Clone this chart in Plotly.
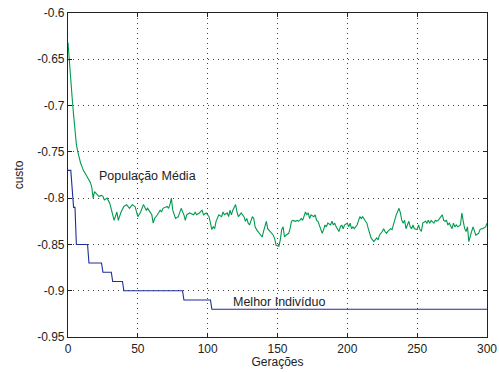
import plotly.graph_objects as go

# Green series: população média (generation, custo)
media_gens = [0, 1, 2, 3, 4, 5, 6, 7, 8, 9, 10, 11, 13, 15, 16, 17, 18, 19, 20, 21, 22, 24, 25, 26, 28, 30,
              31, 33, 35, 36, 38, 40, 42, 44, 46, 48, 50, 52, 54, 56, 57, 59, 60, 61, 62, 64, 66, 67, 68, 71,
              72, 73, 74, 75, 77, 79, 80, 81, 83, 84, 85, 87, 90, 91, 92, 94, 96, 97, 99, 101, 103, 104, 105,
              106, 108, 110, 111, 112, 114, 115, 116, 117, 118, 120, 121, 122, 123, 124, 126, 127, 128, 129,
              130, 132, 133, 134, 135, 136, 137, 139, 140, 141, 142, 143, 145, 147, 148, 149, 151, 152, 153,
              154, 155, 156, 158, 159, 160, 161, 163, 164, 165, 166, 167, 168, 170, 171, 172, 173, 174, 176,
              177, 178, 179, 180, 182, 183, 184, 185, 186, 188, 189, 190, 191, 192, 194, 195, 196, 197, 198,
              200, 201, 202, 203, 204, 205, 207, 208, 209, 210, 211, 213, 214, 215, 216, 217, 219, 220, 221,
              222, 223, 225, 226, 227, 228, 229, 231, 232, 233, 234, 235, 237, 238, 239, 240, 241, 242, 244,
              245, 246, 247, 248, 250, 251, 252, 253, 254, 256, 257, 258, 259, 260, 262, 263, 264, 265, 266,
              268, 269, 270, 271, 272, 273, 275, 276, 277, 278, 279, 281, 282, 283, 284, 285, 286, 287, 288,
              289, 290, 291, 292, 294, 295, 296, 297, 299, 300]
media_vals = [-0.632, -0.655, -0.672, -0.692, -0.710, -0.728, -0.742, -0.750, -0.757, -0.762, -0.766, -0.770,
              -0.775, -0.780, -0.783, -0.788, -0.800, -0.793, -0.795, -0.797, -0.798, -0.797, -0.798, -0.802,
              -0.800, -0.806, -0.813, -0.824, -0.815, -0.824, -0.815, -0.809, -0.807, -0.811, -0.807, -0.809,
              -0.820, -0.815, -0.807, -0.813, -0.811, -0.816, -0.818, -0.827, -0.822, -0.818, -0.813, -0.815,
              -0.811, -0.809, -0.811, -0.807, -0.800, -0.813, -0.822, -0.820, -0.816, -0.811, -0.818, -0.824,
              -0.818, -0.816, -0.818, -0.815, -0.818, -0.816, -0.813, -0.818, -0.816, -0.820, -0.834, -0.831,
              -0.833, -0.825, -0.818, -0.820, -0.815, -0.818, -0.816, -0.820, -0.813, -0.818, -0.813, -0.807,
              -0.815, -0.820, -0.818, -0.816, -0.820, -0.825, -0.822, -0.827, -0.829, -0.820, -0.822, -0.831,
              -0.834, -0.836, -0.838, -0.842, -0.836, -0.829, -0.825, -0.833, -0.836, -0.840, -0.844, -0.851,
              -0.852, -0.845, -0.834, -0.831, -0.842, -0.840, -0.838, -0.833, -0.825, -0.824, -0.825, -0.824,
              -0.825, -0.824, -0.822, -0.824, -0.815, -0.818, -0.816, -0.822, -0.818, -0.820, -0.818, -0.824,
              -0.825, -0.829, -0.838, -0.834, -0.829, -0.831, -0.827, -0.829, -0.825, -0.829, -0.827, -0.831,
              -0.836, -0.831, -0.829, -0.833, -0.829, -0.827, -0.831, -0.827, -0.833, -0.831, -0.833, -0.829,
              -0.825, -0.820, -0.822, -0.820, -0.825, -0.827, -0.833, -0.838, -0.843, -0.847, -0.845, -0.843,
              -0.845, -0.840, -0.836, -0.833, -0.836, -0.838, -0.836, -0.833, -0.834, -0.829, -0.825, -0.818,
              -0.811, -0.816, -0.824, -0.827, -0.824, -0.833, -0.825, -0.831, -0.833, -0.829, -0.833, -0.834,
              -0.829, -0.834, -0.836, -0.827, -0.825, -0.827, -0.824, -0.827, -0.824, -0.827, -0.824, -0.825,
              -0.824, -0.822, -0.818, -0.824, -0.825, -0.824, -0.829, -0.827, -0.833, -0.827, -0.831, -0.829,
              -0.831, -0.829, -0.816, -0.825, -0.833, -0.836, -0.831, -0.847, -0.840, -0.836, -0.831, -0.836,
              -0.840, -0.838, -0.834, -0.833, -0.833, -0.831, -0.827]

# Blue series: melhor indivíduo (step knots)
melhor_gens = [0, 2, 4, 5, 6, 14, 15, 24, 25, 31, 32, 39, 40, 82, 83, 102, 103, 300]
melhor_vals = [-0.77, -0.77, -0.81, -0.81, -0.85, -0.85, -0.87, -0.87, -0.88, -0.88, -0.89, -0.89,
               -0.90, -0.90, -0.91, -0.91, -0.92, -0.92]

x_ticks = [0, 50, 100, 150, 200, 250, 300]
y_ticks = [-0.95, -0.9, -0.85, -0.8, -0.75, -0.7, -0.65, -0.6]
y_tick_labels = ["-0.95", "-0.9", "-0.85", "-0.8", "-0.75", "-0.7", "-0.65", "-0.6"]

FONT = "Liberation Sans, Arial, sans-serif"
TXT = "#222222"

fig = go.Figure()
fig.add_trace(go.Scatter(x=media_gens, y=media_vals, mode="lines",
                         line=dict(color="#009a4e", width=1.1), showlegend=False))
fig.add_trace(go.Scatter(x=melhor_gens, y=melhor_vals, mode="lines",
                         line=dict(color="#1f2d9c", width=1.1), showlegend=False))

fig.add_annotation(x=20.8, y=-0.7758, xref="x", yref="y", text="População Média", showarrow=False,
                   xanchor="left", yanchor="middle", font=dict(family=FONT, size=12.5, color=TXT))
fig.add_annotation(x=116.5, y=-0.9119, xref="x", yref="y", text="Melhor Indivíduo", showarrow=False,
                   xanchor="left", yanchor="middle", font=dict(family=FONT, size=12.5, color=TXT))

axis_common = dict(showline=True, linecolor="#222222", linewidth=1.2, mirror="ticks",
                   ticks="inside", ticklen=4, tickcolor="#222222", automargin=False,
                   showgrid=True, gridcolor="#444444", griddash="1px,4px", gridwidth=1,
                   zeroline=False, tickfont=dict(family=FONT, size=12, color=TXT))

fig.update_xaxes(range=[0, 300], tickvals=x_ticks,
                 title=dict(text="Gerações", font=dict(family=FONT, size=12, color=TXT), standoff=3),
                 **axis_common)
fig.update_yaxes(range=[-0.95, -0.6], tickvals=y_ticks, ticktext=y_tick_labels,
                 title=dict(text="custo", font=dict(family=FONT, size=12, color=TXT), standoff=10),
                 **axis_common)

fig.update_layout(width=499, height=372, margin=dict(l=68, r=12, t=13, b=35),
                  plot_bgcolor="white", paper_bgcolor="white")

# remove the browser's default 8px body margin so the figure fills the window exactly
fig.write_html("out.html", config={"displayModeBar": False},
               post_script="document.body.style.margin='0';document.body.style.overflow='hidden';")
